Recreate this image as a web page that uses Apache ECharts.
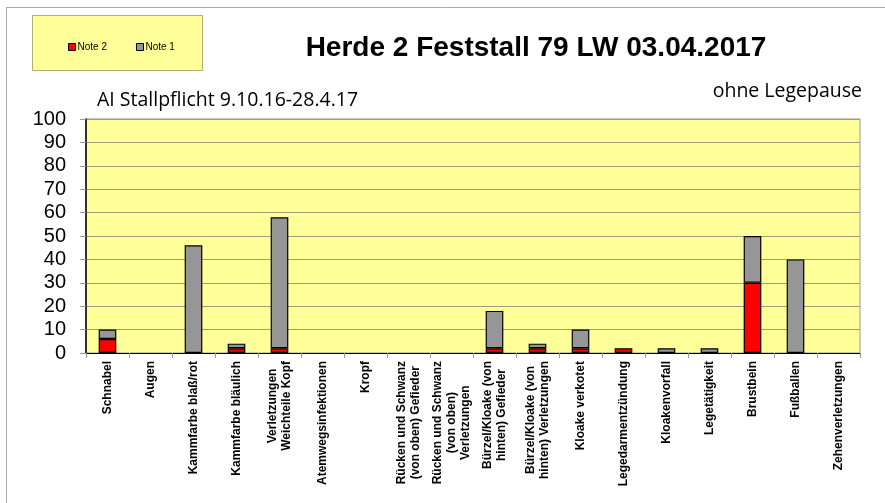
<!DOCTYPE html>
<html><head><meta charset="utf-8">
<script src="https://cdn.jsdelivr.net/npm/echarts@6/dist/echarts.min.js"></script>
<style>html,body{margin:0;padding:0;background:#fff}#c{width:885px;height:503px}</style>
</head><body><div id="c"></div>
<script>
const categories = [
  "Schnabel", "Augen", "Kammfarbe blaß/rot", "Kammfarbe bläulich",
  "Verletzungen\nWeichteile Kopf", "Atemwegsinfektionen", "Kropf",
  "Rücken und Schwanz\n(von oben) Gefieder", "Rücken und Schwanz\n(von oben)\nVerletzungen",
  "Bürzel/Kloake (von\nhinten) Gefieder", "Bürzel/Kloake (von\nhinten) Verletzungen",
  "Kloake verkotet", "Legedarmentzündung", "Kloakenvorfall", "Legetätigkeit",
  "Brustbein", "Fußballen", "Zehenverletzungen"
];
const note2 = [6, 0, 0, 2, 2, 0, 0, 0, 0, 2, 2, 2, 2, 0, 0, 30, 0, 0];
const note1 = [4, 0, 46, 2, 56, 0, 0, 0, 0, 16, 2, 8, 0, 2, 2, 20, 40, 0];
const yTicks = [0, 10, 20, 30, 40, 50, 60, 70, 80, 90, 100];

const hideZero = arr => arr.map(v => v === 0 ? '-' : v);

const chart = echarts.init(document.getElementById('c'), null, {renderer: 'canvas'});
chart.setOption({
  animation: false,
  backgroundColor: '#ffffff',
  title: {
    text: 'Herde 2 Feststall 79 LW 03.04.2017',
    left: 531, top: 29, textAlign: 'center',
    textStyle: {fontFamily: 'Liberation Sans', fontWeight: 'bold', fontSize: 28, color: '#000'}
  },
  graphic: [
    {type: 'line', shape: {x1: 6.5, y1: 7, x2: 6.5, y2: 503}, style: {stroke: '#aaaaaa', lineWidth: 1}},
    {type: 'line', shape: {x1: 6, y1: 7.5, x2: 885, y2: 7.5}, style: {stroke: '#aaaaaa', lineWidth: 1}},
    {type: 'rect', z: -1, shape: {x: 32.5, y: 15.5, width: 170, height: 55}, style: {fill: '#FFFF99', stroke: '#b0b070', lineWidth: 1}},
    {type: 'text', left: 97, top: 90, style: {text: 'AI Stallpflicht 9.10.16-28.4.17', font: '19.5px "Open Sans", sans-serif', fill: '#000'}},
    {type: 'text', right: 23, top: 81, style: {text: 'ohne Legepause', font: '19.5px "Open Sans", sans-serif', fill: '#000'}}
  ],
  legend: {
    left: 63, top: 37, itemWidth: 7, itemHeight: 7, itemGap: 29, icon: 'rect',
    data: [{name: 'Note 2', itemStyle: {borderColor: '#000', borderWidth: 1}}, {name: 'Note 1', itemStyle: {borderColor: '#000', borderWidth: 1}}],
    textStyle: {fontFamily: 'Liberation Sans', fontSize: 10, color: '#000', padding: [0, 0, 0, -3]}
  },
  grid: {left: 86, right: 25, top: 119, bottom: 150, show: true, backgroundColor: '#FFFF99', borderColor: '#999999', borderWidth: 1},
  xAxis: {
    type: 'category', data: categories,
    axisLine: {lineStyle: {color: '#000', width: 1}},
    axisTick: {show: true, alignWithLabel: false, length: 5, lineStyle: {color: '#999'}},
    axisLabel: {
      rotate: 90, interval: 0, margin: 8, color: '#000',
      fontFamily: 'Liberation Sans', fontWeight: 'bold', fontSize: 12, lineHeight: 14,
      formatter: v => v.split('\n').map(s => '{c|' + s + '}').join('\n'),
      rich: {c: {align: 'center', fontFamily: 'Liberation Sans', fontWeight: 'bold', fontSize: 12, lineHeight: 14, color: '#000'}}
    }
  },
  yAxis: {
    type: 'value', min: 0, max: 100, interval: 10,
    axisLine: {show: true, lineStyle: {color: '#000', width: 1.5}},
    axisTick: {show: true, length: 6, lineStyle: {color: '#999'}},
    splitLine: {lineStyle: {color: '#a09c80', width: 1}},
    axisLabel: {fontFamily: 'Liberation Sans', fontSize: 20, color: '#000', margin: 20,
      formatter: v => yTicks.includes(v) ? String(v) : ''}
  },
  series: [
    {name: 'Note 2', type: 'bar', stack: 's', data: hideZero(note2), barWidth: '41%',
      itemStyle: {color: '#FF0000', borderColor: '#000', borderWidth: 1.2}},
    {name: 'Note 1', type: 'bar', stack: 's', data: hideZero(note1), barWidth: '41%',
      itemStyle: {color: '#969696', borderColor: '#000', borderWidth: 1.2}}
  ]
});
</script></body></html>
